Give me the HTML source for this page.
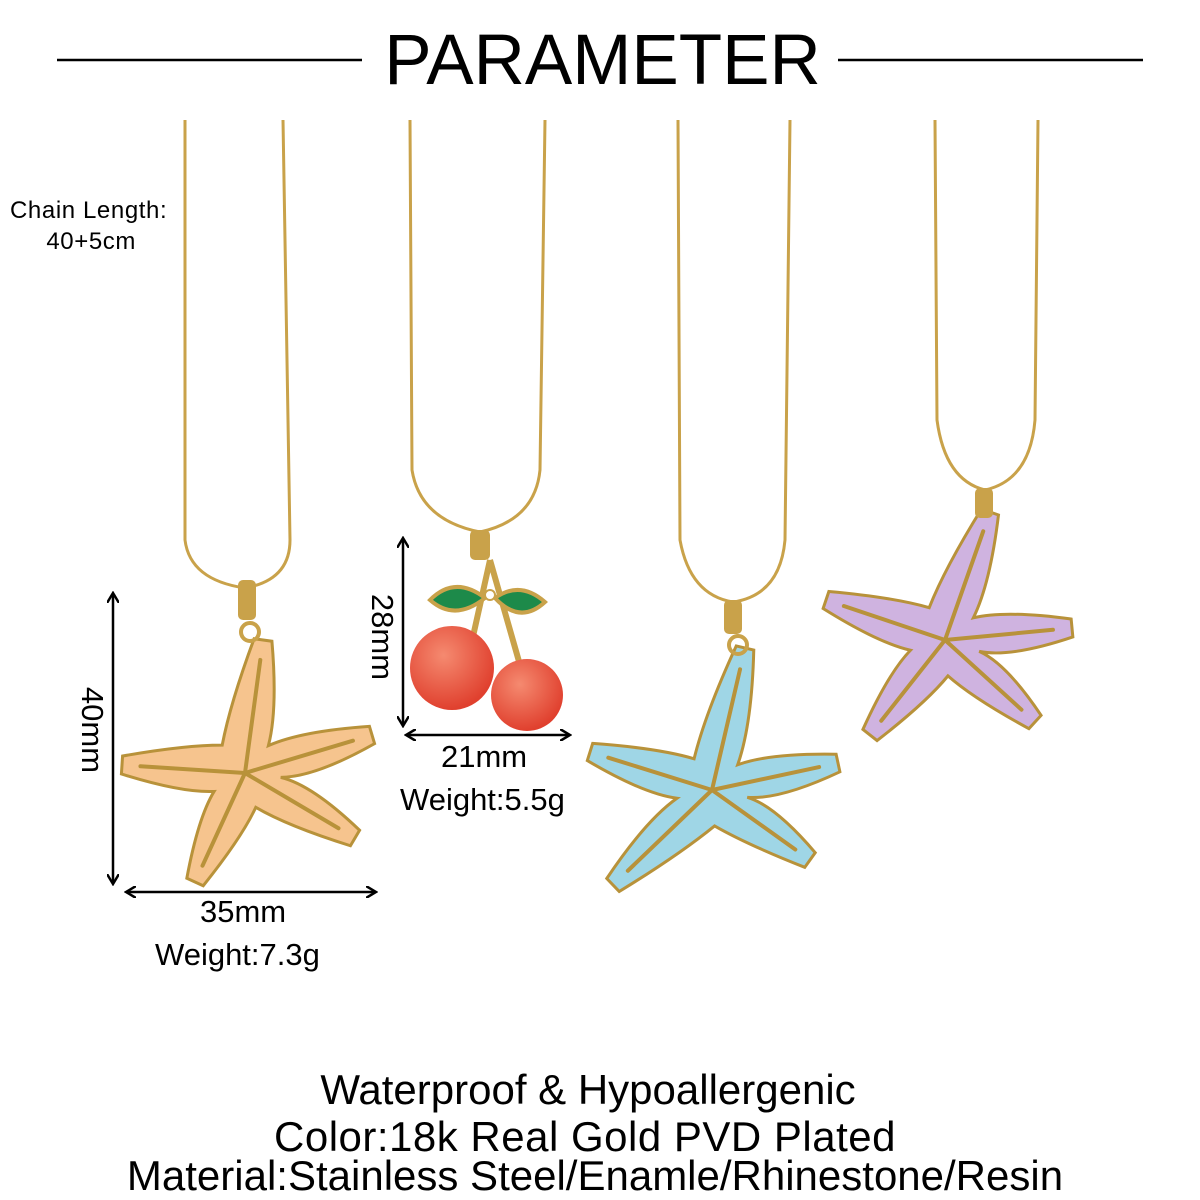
<!DOCTYPE html>
<html><head><meta charset="utf-8">
<style>
html,body{margin:0;padding:0;background:#fff;}
body{width:1200px;height:1200px;position:relative;overflow:hidden;font-family:"Liberation Sans",sans-serif;color:#000;}
.t{position:absolute;white-space:nowrap;}
</style></head><body>
<svg id="s" width="1200" height="1200" style="position:absolute;left:0;top:0">
<defs>
<marker id="ah" markerWidth="12" markerHeight="12" refX="10" refY="6" orient="auto-start-reverse" markerUnits="userSpaceOnUse">
<path d="M0,0 L10,6 L0,12" fill="none" stroke="#000" stroke-width="2.5"/></marker>
<radialGradient id="ch" cx="40%" cy="35%" r="65%"><stop offset="0" stop-color="#f58a70"/><stop offset="1" stop-color="#e0402e"/></radialGradient>
</defs>
<line x1="57" y1="60" x2="362" y2="60" stroke="#000" stroke-width="2.5"/>
<line x1="838" y1="60" x2="1143" y2="60" stroke="#000" stroke-width="2.5"/>
<g fill="none" stroke="#c9a24a" stroke-width="3">
<path d="M185,120 L185,540 Q190,580 245,588 Q290,580 290,540 L283,120"/>
<path d="M410,120 L412,470 Q420,520 480,532 Q535,520 540,470 L545,120"/>
<path d="M678,120 L680,540 Q690,595 733,602 Q780,595 785,540 L790,120"/>
<path d="M935,120 L937,420 Q945,480 985,490 Q1030,480 1035,420 L1038,120"/>
</g>
<g id="stars"></g>
<rect x="238" y="580" width="18" height="40" rx="5" fill="#c9a24a"/>
<circle cx="250" cy="632" r="9" fill="none" stroke="#c9a24a" stroke-width="4"/>
<rect x="724" y="600" width="18" height="34" rx="5" fill="#c9a24a"/>
<circle cx="738" cy="645" r="9" fill="none" stroke="#c9a24a" stroke-width="4"/>
<rect x="975" y="488" width="18" height="30" rx="5" fill="#c9a24a"/>
<rect x="470" y="530" width="20" height="30" rx="5" fill="#c9a24a"/>
<path d="M490,560 L470,650 M490,560 L520,665" stroke="#c9a24a" stroke-width="6" fill="none"/>
<path d="M430,600 Q455,575 485,598 Q455,622 430,600Z" fill="#1d8a4a" stroke="#c9a24a" stroke-width="4"/>
<path d="M495,598 Q520,580 545,602 Q520,625 495,598Z" fill="#1d8a4a" stroke="#c9a24a" stroke-width="4"/>
<circle cx="490" cy="595" r="5" fill="#fff" stroke="#c9a24a" stroke-width="2"/>
<circle cx="452" cy="668" r="42" fill="url(#ch)"/>
<circle cx="527" cy="695" r="36" fill="url(#ch)"/>
<g stroke="#000" stroke-width="2.5">
<line x1="113" y1="593" x2="113" y2="884" marker-start="url(#ah)" marker-end="url(#ah)"/>
<line x1="126" y1="892" x2="376" y2="892" marker-start="url(#ah)" marker-end="url(#ah)"/>
<line x1="403" y1="538" x2="403" y2="726" marker-start="url(#ah)" marker-end="url(#ah)"/>
<line x1="406" y1="735" x2="570" y2="735" marker-start="url(#ah)" marker-end="url(#ah)"/>
</g>
<text x="90" y="730" font-family="Liberation Sans" font-size="31" text-anchor="middle" transform="rotate(90 90 730)" dominant-baseline="middle">40mm</text>
<text x="380" y="637" font-family="Liberation Sans" font-size="31" text-anchor="middle" transform="rotate(90 380 637)" dominant-baseline="middle">28mm</text>
</svg>
<div class="t" style="left:0;width:1205px;text-align:center;top:22px;font-size:71px;line-height:78px">PARAMETER</div>
<div class="t" style="left:10px;top:195px;font-size:24px;line-height:31px;letter-spacing:0.6px">Chain Length:<br>&nbsp;&nbsp;&nbsp;&nbsp;&nbsp;40+5cm</div>
<div class="t" style="left:200px;top:894px;font-size:31px">35mm</div>
<div class="t" style="left:155px;top:937px;font-size:31px">Weight:7.3g</div>
<div class="t" style="left:441px;top:739px;font-size:31px">21mm</div>
<div class="t" style="left:400px;top:782px;font-size:31px">Weight:5.5g</div>
<div class="t" style="left:0;width:1176px;text-align:center;top:1066px;font-size:42px;line-height:48px">Waterproof &amp; Hypoallergenic</div>
<div class="t" style="left:0;width:1170px;text-align:center;top:1113px;font-size:42px;line-height:48px;letter-spacing:0.5px">Color:18k Real Gold PVD Plated</div>
<div class="t" style="left:0;width:1190px;text-align:center;top:1152px;font-size:42px;line-height:48px">Material:Stainless Steel/Enamle/Rhinestone/Resin</div>
<script>
function star(c,tips,fill){
 var n=tips.length;
 var ang=tips.map(t=>Math.atan2(t[1]-c[1],t[0]-c[0]));
 var d="",mw=24,w=9,r=36;
 for(var i=0;i<n;i++){
  var t=tips[i],a=ang[i],a2=ang[(i+1)%n];
  var da=a2-a; while(da<0)da+=2*Math.PI;
  var am=a+da/2;
  var v=[c[0]+r*Math.cos(am),c[1]+r*Math.sin(am)];
  var px=-Math.sin(a),py=Math.cos(a);
  var tl=[t[0]-px*w,t[1]-py*w],tr=[t[0]+px*w,t[1]+py*w];
  var mid=[(c[0]+t[0])/2,(c[1]+t[1])/2];
  if(i==0)d+="M"+tl[0]+","+tl[1];
  d+=" Q"+t[0]+","+t[1]+" "+tr[0]+","+tr[1];
  d+=" Q"+(mid[0]+px*mw)+","+(mid[1]+py*mw)+" "+v[0]+","+v[1];
  var t2=tips[(i+1)%n],b=ang[(i+1)%n],qx=-Math.sin(b),qy=Math.cos(b);
  var mid2=[(c[0]+t2[0])/2,(c[1]+t2[1])/2];
  d+=" Q"+(mid2[0]-qx*mw)+","+(mid2[1]-qy*mw)+" "+(t2[0]-qx*w)+","+(t2[1]-qy*w);
 }
 var g=document.getElementById("stars");
 var p=document.createElementNS("http://www.w3.org/2000/svg","path");
 p.setAttribute("d",d+"Z");p.setAttribute("fill",fill);p.setAttribute("stroke","#b8923a");p.setAttribute("stroke-width","3");
 g.appendChild(p);
 tips.forEach(t=>{var l=document.createElementNS("http://www.w3.org/2000/svg","line");
  l.setAttribute("x1",c[0]);l.setAttribute("y1",c[1]);l.setAttribute("x2",c[0]+(t[0]-c[0])*0.85);l.setAttribute("y2",c[1]+(t[1]-c[1])*0.85);
  l.setAttribute("stroke","#b8923a");l.setAttribute("stroke-width","4");l.setAttribute("stroke-linecap","round");g.appendChild(l);});
}
star([245,773],[[263,640],[372,735],[355,838],[195,882],[122,765]],"#f6c48e");
star([712,790],[[745,648],[838,763],[810,860],[613,885],[590,752]],"#9fd6e6");
star([945,640],[[990,512],[1072,628],[1035,722],[870,735],[826,600]],"#cfb3e0");
</script>
</body></html>
